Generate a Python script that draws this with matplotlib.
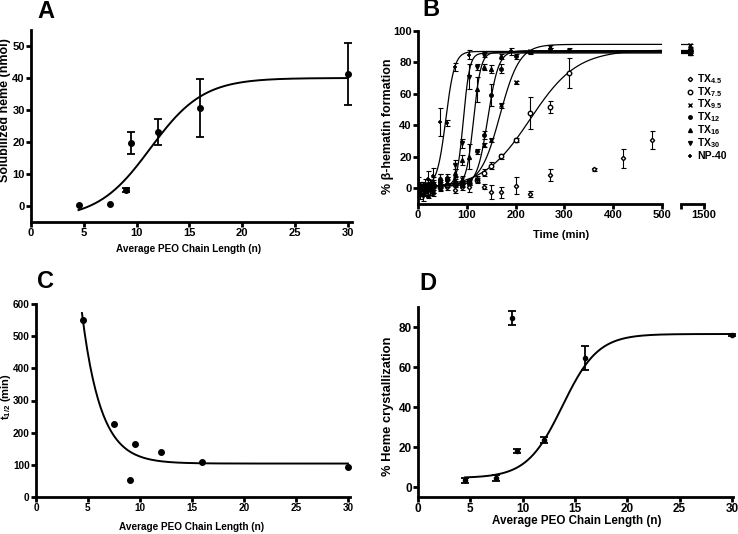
import numpy as np
import matplotlib.pyplot as plt
from matplotlib.lines import Line2D

plt.rcParams['font.family'] = ['Liberation Sans', 'DejaVu Sans']
plt.rcParams['font.weight'] = 'bold'
plt.rcParams['axes.labelweight'] = 'bold'
plt.rcParams['mathtext.default'] = 'regular'
plt.rcParams['font.size'] = 7.5

# ---- data ----
peo_n = [4.5, 7.5, 9, 9.5, 12, 16, 30]

# A: solubilized heme
heme_sol = [0.2, 0.5, 5.0, 19.8, 23.2, 30.7, 41.2]
heme_sol_err = [0, 0, 0.7, 3.4, 4.1, 9.1, 9.6]
fit_a = (-4, 40, 11.3, 2.5)  # bottom, top, n50, slope

# C: half times
t_half = [550, 228, 52, 165, 140, 110, 92]
fit_c = (104, 468, 0.55, 4.42)  # plateau, span, k, n0

# D: heme crystallization
cryst = [3.3, 4.5, 84.5, 18.0, 23.5, 64.5, 76.0]
cryst_err = [1.2, 1.5, 3.5, 1.2, 1.5, 6.0, 0.5]
fit_d = (4.5, 76.5, 13.8, 1.7)

# B: time courses
t_tx45 = [0, 5, 10, 15, 20, 25, 30, 45, 60, 75, 90, 105, 135, 150, 170, 200, 230, 270, 360, 420, 480, 1440]
v_tx45 = [0, -1, 1, -2, 0, 1, -1, 0, 1, -1, 1, 0.5, 1, -2.5, -2.5, 1.7, -3.5, 8.5, 12, 19, 30.7, 88]
e_tx45 = [2, 2, 2, 2, 2, 2, 2, 2, 2, 2, 2, 3, 1.5, 4.5, 3.5, 5.5, 2, 4, 1.2, 6, 6, 1]

t_tx75 = [0, 5, 10, 15, 20, 25, 30, 45, 60, 75, 90, 105, 120, 135, 150, 170, 200, 230, 270, 310, 1440]
v_tx75 = [0, 1, 0, -1, 1, 0, 2, 1, 2, 3, 3, 4, 5, 10, 14.4, 20.3, 30.7, 48, 51.8, 73.4, 87]
e_tx75 = [2, 2, 1, 2, 2, 2, 2, 2, 1.5, 1.5, 1.5, 1.5, 1.5, 2.5, 2, 1.5, 1, 10, 4, 9.5, 1]

t_tx95 = [0, 5, 10, 15, 20, 25, 30, 45, 60, 75, 90, 105, 120, 135, 150, 170, 200, 230, 270, 1440]
v_tx95 = [1, 0, 2, -1, 1, 2, 3, 2, 4, 5, 6, 4, 6, 27.5, 30.7, 52.8, 67.4, 87, 90, 91]
e_tx95 = [1.5, 1.5, 2, 1.5, 1.5, 2, 2, 2, 2, 2, 2, 2, 2, 1.5, 1.5, 1.5, 1, 1, 1, 1]

t_tx12 = [0, 5, 10, 15, 20, 25, 30, 45, 60, 75, 90, 105, 120, 135, 150, 170, 200, 230, 270, 310, 1440]
v_tx12 = [0, -2, 1, 0, 3, 2, -3, 6, 5, 4, 2, 4, 23.5, 34, 59, 76, 84, 86.5, 88, 88, 86]
e_tx12 = [2, 3, 2, 2, 3, 2, 2, 3, 2, 2, 1.5, 2, 1.5, 2.5, 7, 3, 1.5, 1, 1, 1, 1]

t_tx16 = [0, 5, 10, 15, 20, 25, 30, 45, 60, 75, 90, 105, 120, 135, 150, 170, 1440]
v_tx16 = [-1, 2, 0, 3, -4, 1, 4, 6, 7, 10, 18, 20, 63, 77, 76, 84, 86]
e_tx16 = [2, 2, 2, 3, 2, 2, 3, 3, 2, 2, 3, 8, 8, 2, 2.5, 1.5, 1]

t_tx30 = [0, 5, 10, 15, 20, 25, 30, 45, 60, 75, 90, 105, 120, 135, 1440]
v_tx30 = [-2, -4, -5, -3, 2, -2, 0, 3, 5, 15, 28.6, 71, 77, 85, 87]
e_tx30 = [2, 3, 3, 2, 3, 2, 3, 2, 2, 3, 3, 8, 2, 1.5, 1]

t_np40 = [0, 5, 10, 15, 20, 25, 30, 45, 60, 75, 105, 190, 1440]
v_np40 = [5, 2, 0, 1, 6, 3, 8, 42.2, 41.5, 77, 85, 87, 87.5]
e_np40 = [2, 2, 2, 2, 5, 2, 5, 9, 2, 2.5, 3, 2, 1]

labels_b = ['TX$_{4.5}$', 'TX$_{7.5}$', 'TX$_{9.5}$', 'TX$_{12}$', 'TX$_{16}$', 'TX$_{30}$', 'NP-40']
# bottom, top, t50, slope (None = no fit)
fits_b = [None, (0, 88, 230, 48), (1.5, 91.5, 168, 20), (1.5, 87.5, 143, 11),
          (1.5, 86.5, 114, 7.5), (1.5, 86, 93, 6.5), (1, 87, 57, 9)]


def boltz(x, p):
    return p[0] + (p[1] - p[0]) / (1 + np.exp((p[2] - x) / p[3]))


def style(ax, size):
    for s in ['top', 'right']:
        ax.spines[s].set_visible(False)
    for s in ['left', 'bottom']:
        ax.spines[s].set_linewidth(2)
    ax.tick_params(width=2, length=3.5, pad=1, labelsize=size)


fig = plt.figure(figsize=(7.38, 5.34), dpi=100)
W, H = 738, 534


def box(x0, y0, x1, y1):
    return [x0 / W, 1 - y1 / H, (x1 - x0) / W, (y1 - y0) / H]


def label(x, y, s, size, rot=0):
    fig.text(x / W, 1 - y / H, s, ha='center', va='center', fontsize=size,
             fontweight='bold', rotation=rot)


# ---- A ----
axA = fig.add_axes(box(31, 30, 352, 222))
style(axA, 8)
xs = np.linspace(4.5, 30, 200)
axA.plot(xs, boltz(xs, fit_a), color='black', lw=1.4)
axA.plot(peo_n, heme_sol, 'o', color='black', ms=4, clip_on=False)
has_err = [i for i, e in enumerate(heme_sol_err) if e > 0]
axA.errorbar([peo_n[i] for i in has_err], [heme_sol[i] for i in has_err],
             yerr=[heme_sol_err[i] for i in has_err], fmt='none', ecolor='black',
             capsize=3, elinewidth=1.3, capthick=1.3, clip_on=False)
axA.set_xlim(0, 30.4)
axA.set_ylim(-5, 55)
axA.set_xticks(range(0, 31, 5))
axA.set_yticks(range(0, 51, 10))
label(189, 249, 'Average PEO Chain Length (n)', 7.2)
label(5, 110, 'Solubilized heme (nmol)', 9, 90)

# ---- B ----
markers = [dict(marker='D', ms=2.2, mfc='white'), dict(marker='o', ms=3.2, mfc='white'),
           dict(marker='x', ms=3, mew=1), dict(marker='o', ms=2.5),
           dict(marker='^', ms=2.8), dict(marker='v', ms=2.8), dict(marker='+', ms=3.5, mew=1.2)]
series_b = [(t_tx45, v_tx45, e_tx45), (t_tx75, v_tx75, e_tx75), (t_tx95, v_tx95, e_tx95),
            (t_tx12, v_tx12, e_tx12), (t_tx16, v_tx16, e_tx16), (t_tx30, v_tx30, e_tx30),
            (t_np40, v_np40, e_np40)]

axB = fig.add_axes(box(418, 31, 662, 204))
axB2 = fig.add_axes(box(681, 31, 704, 204))
ts = np.linspace(0, 1440, 3000)
for ax in (axB, axB2):
    style(ax, 8)
    for (t, v, e), mk, p in zip(series_b, markers, fits_b):
        if p is not None:
            ax.plot(ts, boltz(ts, p), color='black', lw=0.9)
        ax.errorbar(t, v, yerr=e, fmt='none', ecolor='black', elinewidth=0.8,
                    capsize=1.8, capthick=0.8)
        ax.plot(t, v, ls='none', color='black', mec='black', **mk)
    ax.set_ylim(-10, 100)
axB.set_xlim(0, 500)
axB.set_xticks(range(0, 501, 100))
axB.set_yticks(range(0, 101, 20))
axB2.set_xlim(1400, 1500)
axB2.set_xticks([1400, 1500])
axB2.set_xticklabels(['', '1500'])
axB2.spines['left'].set_visible(False)
axB2.set_yticks([])
label(388, 126, '% β-hematin formation', 9, 90)
label(561, 235, 'Time (min)', 8)

# legend, drawn row by row
for i, (mk, lab) in enumerate(zip(markers, labels_b)):
    yy = 1 - (79 + 12.8 * i) / H
    fig.add_artist(Line2D([690 / W], [yy], transform=fig.transFigure, ls='none',
                          color='black', mec='black', **mk))
    fig.text(697 / W, yy, lab, ha='left', va='center', fontsize=7.5, fontweight='bold')

# ---- C ----
axC = fig.add_axes(box(36, 304, 350, 497))
style(axC, 7.2)
xc = np.linspace(fit_c[3], 30, 200)
axC.plot(xc, fit_c[0] + fit_c[1] * np.exp(-fit_c[2] * (xc - fit_c[3])), color='black', lw=1.4)
axC.plot(peo_n, t_half, 'o', color='black', ms=4, clip_on=False)
axC.set_xlim(0, 30.2)
axC.set_ylim(0, 600)
axC.set_xticks(range(0, 31, 5))
axC.set_yticks(range(0, 601, 100))
label(192, 527, 'Average PEO Chain Length (n)', 7.2)
label(6, 397, 't$_{1/2}$ (min)', 8, 90)

# ---- D ----
axD = fig.add_axes(box(418, 307, 733, 497))
style(axD, 8.5)
xd = np.linspace(4.5, 30, 200)
axD.plot(xd, boltz(xd, fit_d), color='black', lw=1.4)
axD.errorbar(peo_n, cryst, yerr=cryst_err, fmt='o', color='black', ms=3,
             capsize=3, elinewidth=1.3, capthick=1.3, clip_on=False)
axD.set_xlim(0, 30.1)
axD.set_ylim(-5, 90)
axD.set_xticks(range(0, 31, 5))
axD.set_yticks(range(0, 81, 20))
label(577, 521, 'Average PEO Chain Length (n)', 8.4)
label(388, 406, '% Heme crystallization', 9.3, 90)

# panel letters
for lab, x, y in [('A', 46, 11), ('B', 431, 10), ('C', 45, 282), ('D', 428, 283)]:
    fig.text(x / W, 1 - y / H, lab, ha='center', va='center', fontsize=17, fontweight='bold')

fig.savefig('out.png', dpi=100)
